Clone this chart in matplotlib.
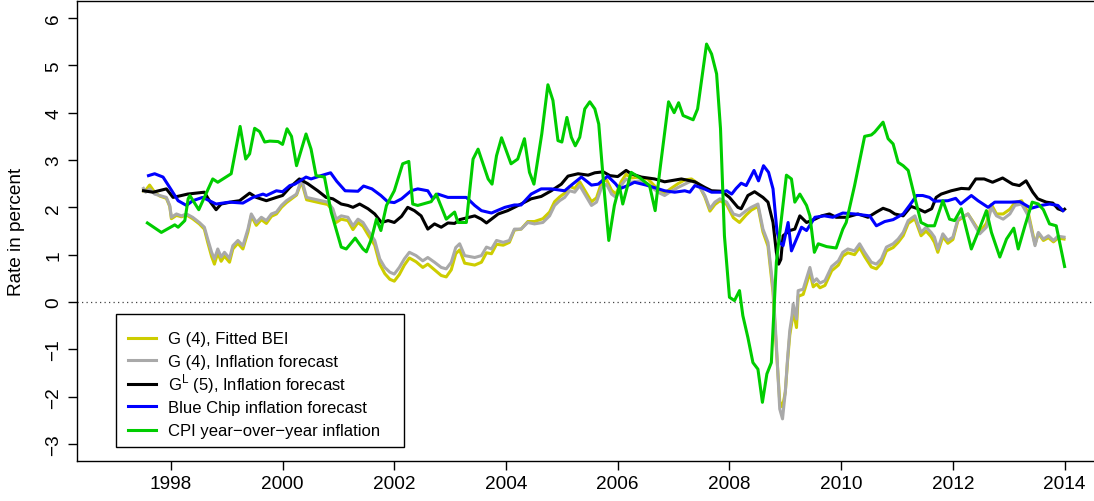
import matplotlib
matplotlib.use("Agg")
import matplotlib.pyplot as plt
from matplotlib.lines import Line2D
from matplotlib.patches import Rectangle

plt.rcParams['font.family'] = ['Liberation Sans', 'DejaVu Sans']
plt.rcParams['mathtext.fontset'] = 'custom'
plt.rcParams['mathtext.rm'] = 'Liberation Sans'

# ---------------------------------------------------------------- data
# G(4) model series (shared sampling dates)
g4_dates = [
    1997.51, 1997.55, 1997.62, 1997.71, 1997.80, 1997.92, 1997.98, 1998.01, 1998.10, 1998.19,
    1998.28, 1998.39, 1998.51, 1998.60, 1998.66, 1998.73, 1998.78, 1998.84, 1998.90, 1998.96,
    1999.05, 1999.11, 1999.20, 1999.29, 1999.38, 1999.44, 1999.53, 1999.62, 1999.71, 1999.80,
    1999.89, 1999.98, 2000.07, 2000.16, 2000.25, 2000.34, 2000.43, 2000.54, 2000.69, 2000.81,
    2000.90, 2000.96, 2001.05, 2001.17, 2001.26, 2001.35, 2001.44, 2001.53, 2001.65, 2001.74,
    2001.83, 2001.92, 2002.00, 2002.09, 2002.18, 2002.27, 2002.39, 2002.51, 2002.60, 2002.72,
    2002.84, 2002.93, 2003.02, 2003.10, 2003.17, 2003.26, 2003.44, 2003.56, 2003.65, 2003.74,
    2003.83, 2003.95, 2004.06, 2004.15, 2004.27, 2004.39, 2004.51, 2004.66, 2004.78, 2004.87,
    2004.96, 2005.05, 2005.14, 2005.23, 2005.32, 2005.41, 2005.53, 2005.62, 2005.71, 2005.80,
    2005.89, 2005.97, 2006.06, 2006.15, 2006.24, 2006.39, 2006.54, 2006.72, 2006.84, 2006.93,
    2007.08, 2007.20, 2007.32, 2007.44, 2007.56, 2007.65, 2007.74, 2007.83, 2007.95, 2008.07,
    2008.18, 2008.30, 2008.39, 2008.51, 2008.60, 2008.69, 2008.78, 2008.84, 2008.90, 2008.95,
    2009.00, 2009.04, 2009.08, 2009.12, 2009.14, 2009.20, 2009.23, 2009.32, 2009.44, 2009.50,
    2009.56, 2009.62, 2009.71, 2009.83, 2009.95, 2010.03, 2010.12, 2010.24, 2010.33, 2010.42,
    2010.54, 2010.63, 2010.72, 2010.81, 2010.93, 2011.02, 2011.11, 2011.20, 2011.32, 2011.43,
    2011.52, 2011.61, 2011.67, 2011.73, 2011.82, 2011.91, 2012.00, 2012.09, 2012.27, 2012.36,
    2012.48, 2012.60, 2012.69, 2012.78, 2012.90, 2013.02, 2013.11, 2013.23, 2013.35, 2013.47,
    2013.53, 2013.62, 2013.71, 2013.80, 2013.88, 2013.99,
]
g4_forecast = [
    2.40, 2.32, 2.39, 2.28, 2.25, 2.21, 2.04, 1.79, 1.86, 1.82,
    1.86, 1.79, 1.68, 1.58, 1.33, 1.05, 0.91, 1.12, 0.95, 1.05,
    0.92, 1.19, 1.30, 1.19, 1.54, 1.86, 1.68, 1.79, 1.72, 1.86,
    1.90, 2.04, 2.14, 2.21, 2.28, 2.60, 2.21, 2.18, 2.14, 2.11,
    1.97, 1.75, 1.82, 1.79, 1.61, 1.75, 1.68, 1.51, 1.30, 0.91,
    0.73, 0.63, 0.59, 0.73, 0.91, 1.05, 0.98, 0.87, 0.94, 0.84,
    0.73, 0.70, 0.84, 1.15, 1.23, 0.98, 0.94, 0.98, 1.16, 1.12,
    1.30, 1.26, 1.30, 1.54, 1.54, 1.68, 1.65, 1.68, 1.82, 2.04,
    2.14, 2.21, 2.35, 2.32, 2.46, 2.28, 2.04, 2.11, 2.42, 2.49,
    2.28, 2.21, 2.46, 2.60, 2.53, 2.56, 2.49, 2.32, 2.25, 2.32,
    2.42, 2.49, 2.56, 2.49, 2.25, 1.97, 2.11, 2.18, 2.11, 1.86,
    1.82, 1.93, 2.00, 2.07, 1.54, 1.26, 0.30, -0.90, -2.26, -2.47,
    -1.90, -1.20, -0.60, -0.29, -0.04, -0.36, 0.24, 0.27, 0.73, 0.42,
    0.49, 0.40, 0.45, 0.75, 0.87, 1.05, 1.12, 1.08, 1.23, 1.05,
    0.84, 0.80, 0.91, 1.16, 1.23, 1.33, 1.47, 1.72, 1.82, 1.47,
    1.58, 1.47, 1.37, 1.12, 1.44, 1.30, 1.37, 1.75, 1.86, 1.68,
    1.44, 1.58, 2.00, 1.82, 1.75, 1.86, 2.04, 2.07, 1.82, 1.19,
    1.47, 1.33, 1.40, 1.30, 1.39, 1.37,
]
g4_fitted_bei = [
    2.35, 2.36, 2.47, 2.32, 2.24, 2.19, 2.02, 1.76, 1.83, 1.80,
    1.84, 1.76, 1.65, 1.54, 1.26, 0.96, 0.80, 1.04, 0.86, 0.97,
    0.84, 1.12, 1.24, 1.12, 1.48, 1.82, 1.62, 1.74, 1.66, 1.81,
    1.86, 2.00, 2.10, 2.18, 2.26, 2.55, 2.16, 2.13, 2.09, 2.06,
    1.92, 1.68, 1.75, 1.72, 1.53, 1.68, 1.60, 1.42, 1.20, 0.80,
    0.60, 0.48, 0.44, 0.58, 0.78, 0.93, 0.85, 0.73, 0.80, 0.68,
    0.56, 0.53, 0.68, 1.02, 1.10, 0.82, 0.78, 0.84, 1.04, 1.02,
    1.22, 1.20, 1.26, 1.52, 1.54, 1.70, 1.70, 1.76, 1.90, 2.12,
    2.22, 2.30, 2.44, 2.40, 2.54, 2.36, 2.12, 2.20, 2.52, 2.58,
    2.36, 2.28, 2.54, 2.70, 2.62, 2.64, 2.60, 2.38, 2.30, 2.38,
    2.50, 2.58, 2.60, 2.50, 2.22, 1.92, 2.06, 2.14, 2.06, 1.78,
    1.68, 1.84, 1.94, 2.02, 1.48, 1.18, 0.20, -1.00, -2.10, -2.22,
    -1.90, -1.25, -0.70, -0.40, -0.15, -0.54, 0.12, 0.16, 0.62, 0.32,
    0.38, 0.30, 0.35, 0.66, 0.78, 0.97, 1.04, 1.00, 1.15, 0.96,
    0.74, 0.70, 0.82, 1.08, 1.15, 1.26, 1.40, 1.66, 1.76, 1.40,
    1.50, 1.38, 1.26, 1.05, 1.38, 1.24, 1.32, 1.72, 1.86, 1.70,
    1.48, 1.66, 2.06, 1.86, 1.86, 1.96, 2.10, 2.14, 1.88, 1.22,
    1.45, 1.30, 1.36, 1.27, 1.35, 1.33,
]

# G^L(5) inflation forecast
gl5_dates = [
    1997.51, 1997.68, 1997.92, 1998.04, 1998.19, 1998.30, 1998.45, 1998.60, 1998.69, 1998.81,
    1998.90, 1999.11, 1999.23, 1999.41, 1999.53, 1999.71, 1999.89, 2000.00, 2000.13, 2000.30,
    2000.45, 2000.63, 2000.78, 2000.90, 2001.05, 2001.17, 2001.26, 2001.38, 2001.53, 2001.65,
    2001.77, 2001.89, 2002.00, 2002.13, 2002.24, 2002.36, 2002.48, 2002.60, 2002.72, 2002.84,
    2002.96, 2003.08, 2003.17, 2003.44, 2003.56, 2003.65, 2003.86, 2004.03, 2004.27, 2004.45,
    2004.63, 2004.81, 2004.99, 2005.11, 2005.29, 2005.47, 2005.59, 2005.74, 2005.86, 2006.00,
    2006.15, 2006.24, 2006.42, 2006.66, 2006.84, 2007.14, 2007.38, 2007.56, 2007.68, 2007.86,
    2008.00, 2008.15, 2008.21, 2008.33, 2008.45, 2008.60, 2008.69, 2008.78, 2008.84, 2008.88,
    2008.92, 2008.96, 2009.08, 2009.17, 2009.26, 2009.38, 2009.53, 2009.65, 2009.79, 2009.91,
    2010.09, 2010.30, 2010.48, 2010.63, 2010.75, 2010.87, 2010.96, 2011.11, 2011.25, 2011.37,
    2011.50, 2011.62, 2011.70, 2011.79, 2011.97, 2012.15, 2012.29, 2012.41, 2012.56, 2012.71,
    2012.89, 2013.07, 2013.19, 2013.31, 2013.43, 2013.52, 2013.67, 2013.79, 2013.88, 2013.97,
    2014.00,
]
gl5_forecast = [
    2.35, 2.32, 2.39, 2.21, 2.25, 2.28, 2.30, 2.32, 2.14, 1.95,
    2.07, 2.12, 2.14, 2.30, 2.21, 2.14, 2.21, 2.25, 2.42, 2.60,
    2.50, 2.35, 2.21, 2.18, 2.07, 2.04, 2.00, 2.07, 1.97, 1.86,
    1.68, 1.72, 1.68, 1.81, 2.00, 1.93, 1.82, 1.54, 1.65, 1.58,
    1.67, 1.66, 1.74, 1.82, 1.75, 1.67, 1.86, 1.93, 2.07, 2.18,
    2.23, 2.35, 2.49, 2.66, 2.71, 2.68, 2.73, 2.75, 2.67, 2.65,
    2.78, 2.71, 2.64, 2.60, 2.54, 2.60, 2.54, 2.42, 2.35, 2.34,
    2.21, 2.00, 1.97, 2.25, 2.33, 2.21, 2.11, 1.68, 1.05, 0.80,
    0.90, 1.40, 1.51, 1.54, 1.82, 1.68, 1.75, 1.82, 1.86, 1.79,
    1.79, 1.86, 1.79, 1.90, 1.98, 1.93, 1.86, 1.82, 2.02, 1.97,
    1.90, 1.97, 2.21, 2.28, 2.35, 2.40, 2.39, 2.60, 2.60, 2.53,
    2.62, 2.49, 2.46, 2.56, 2.32, 2.18, 2.11, 2.09, 1.97, 1.93,
    1.96,
]

# Blue Chip survey forecast
bluechip_dates = [
    1997.60, 1997.71, 1997.86, 1997.98, 1998.13, 1998.28, 1998.39, 1998.57, 1998.81, 1999.05,
    1999.29, 1999.47, 1999.65, 1999.71, 1999.89, 2000.00, 2000.13, 2000.22, 2000.42, 2000.51,
    2000.69, 2000.86, 2000.97, 2001.12, 2001.35, 2001.45, 2001.60, 2001.76, 2001.88, 2002.00,
    2002.13, 2002.30, 2002.42, 2002.60, 2002.69, 2002.78, 2002.96, 2003.29, 2003.44, 2003.56,
    2003.74, 2003.98, 2004.15, 2004.27, 2004.45, 2004.63, 2004.81, 2005.05, 2005.17, 2005.35,
    2005.53, 2005.65, 2005.82, 2005.96, 2006.03, 2006.18, 2006.30, 2006.51, 2006.84, 2007.02,
    2007.20, 2007.29, 2007.38, 2007.53, 2007.68, 2007.86, 2007.95, 2008.04, 2008.12, 2008.21,
    2008.30, 2008.44, 2008.52, 2008.61, 2008.70, 2008.78, 2008.85, 2008.90, 2008.96, 2009.05,
    2009.11, 2009.20, 2009.29, 2009.38, 2009.53, 2009.70, 2009.85, 2010.03, 2010.24, 2010.51,
    2010.63, 2010.78, 2010.93, 2011.11, 2011.23, 2011.35, 2011.46, 2011.58, 2011.67, 2011.91,
    2012.05, 2012.14, 2012.33, 2012.45, 2012.63, 2012.75, 2013.04, 2013.20, 2013.40, 2013.58,
    2013.73, 2013.88, 2013.97,
]
bluechip_forecast = [
    2.67, 2.71, 2.64, 2.42, 2.14, 2.04, 2.14, 2.21, 2.07, 2.11,
    2.09, 2.21, 2.28, 2.25, 2.35, 2.33, 2.46, 2.49, 2.64, 2.60,
    2.67, 2.73, 2.55, 2.35, 2.34, 2.45, 2.39, 2.25, 2.12, 2.10,
    2.18, 2.35, 2.39, 2.35, 2.18, 2.28, 2.21, 2.21, 2.04, 1.93,
    1.88, 2.00, 2.05, 2.05, 2.28, 2.39, 2.39, 2.35, 2.47, 2.64,
    2.47, 2.49, 2.66, 2.50, 2.39, 2.46, 2.53, 2.47, 2.35, 2.32,
    2.35, 2.32, 2.46, 2.40, 2.32, 2.32, 2.35, 2.28, 2.40, 2.51,
    2.46, 2.78, 2.56, 2.88, 2.74, 2.39, 1.50, 1.26, 1.19, 1.68,
    1.08, 1.33, 1.58, 1.51, 1.79, 1.82, 1.79, 1.88, 1.86, 1.82,
    1.61, 1.70, 1.74, 1.86, 2.05, 2.25, 2.25, 2.21, 2.13, 2.14,
    2.19, 2.07, 2.25, 2.14, 2.00, 2.11, 2.11, 2.12, 1.98, 2.04,
    2.07, 2.04, 1.93,
]

# CPI year-over-year inflation
cpi_dates = [
    1997.58, 1997.83, 1998.07, 1998.13, 1998.25, 1998.31, 1998.34, 1998.50, 1998.75, 1998.84,
    1999.08, 1999.24, 1999.34, 1999.41, 1999.50, 1999.59, 1999.68, 1999.77, 1999.92, 2000.00,
    2000.08, 2000.16, 2000.25, 2000.42, 2000.51, 2000.60, 2000.75, 2000.87, 2001.05, 2001.14,
    2001.30, 2001.44, 2001.50, 2001.59, 2001.68, 2001.76, 2001.86, 2002.00, 2002.15, 2002.26,
    2002.33, 2002.42, 2002.66, 2002.75, 2002.93, 2003.08, 2003.14, 2003.29, 2003.41, 2003.50,
    2003.68, 2003.75, 2003.83, 2003.92, 2004.09, 2004.21, 2004.33, 2004.42, 2004.50, 2004.64,
    2004.75, 2004.84, 2004.93, 2005.00, 2005.09, 2005.17, 2005.24, 2005.32, 2005.41, 2005.50,
    2005.59, 2005.66, 2005.75, 2005.84, 2005.94, 2006.03, 2006.09, 2006.24, 2006.40, 2006.57,
    2006.67, 2006.75, 2006.91, 2007.01, 2007.09, 2007.17, 2007.35, 2007.43, 2007.59, 2007.68,
    2007.77, 2007.84, 2007.91, 2008.00, 2008.09, 2008.18, 2008.24, 2008.33, 2008.42, 2008.51,
    2008.59, 2008.67, 2008.75, 2008.84, 2009.02, 2009.11, 2009.17, 2009.26, 2009.38, 2009.44,
    2009.52, 2009.59, 2009.74, 2009.91, 2010.03, 2010.09, 2010.24, 2010.42, 2010.54, 2010.60,
    2010.75, 2010.84, 2010.93, 2011.02, 2011.11, 2011.20, 2011.32, 2011.43, 2011.55, 2011.67,
    2011.82, 2011.94, 2012.03, 2012.15, 2012.33, 2012.45, 2012.60, 2012.69, 2012.84, 2012.96,
    2013.09, 2013.17, 2013.29, 2013.42, 2013.53, 2013.62, 2013.73, 2013.85, 2014.00,
]
cpi_inflation = [
    1.67, 1.47, 1.63, 1.58, 1.72, 2.18, 2.25, 1.95, 2.60, 2.53,
    2.71, 3.71, 3.02, 3.13, 3.67, 3.60, 3.38, 3.40, 3.39, 3.33,
    3.66, 3.50, 2.88, 3.55, 3.23, 2.67, 2.64, 1.90, 1.16, 1.12,
    1.35, 1.12, 1.06, 1.33, 1.75, 1.51, 2.04, 2.35, 2.92, 2.97,
    2.07, 2.04, 2.12, 2.28, 1.75, 1.90, 1.68, 1.68, 3.02, 3.23,
    2.60, 2.49, 3.09, 3.47, 2.92, 3.02, 3.45, 2.74, 2.49, 3.55,
    4.59, 4.26, 3.41, 3.38, 3.90, 3.48, 3.30, 3.48, 4.08, 4.23,
    4.08, 3.76, 2.46, 1.30, 2.04, 2.45, 2.07, 2.74, 2.62, 2.46,
    1.93, 2.74, 4.23, 4.00, 4.21, 3.94, 3.85, 4.08, 5.45, 5.24,
    4.82, 3.66, 1.40, 0.10, 0.03, 0.24, -0.29, -0.75, -1.28, -1.42,
    -2.12, -1.52, -1.28, 0.84, 2.68, 2.60, 2.11, 2.28, 2.04, 1.82,
    1.05, 1.23, 1.17, 1.14, 1.54, 1.68, 2.46, 3.50, 3.53, 3.59,
    3.80, 3.45, 3.34, 2.95, 2.88, 2.78, 2.20, 1.68, 1.61, 1.61,
    2.14, 1.75, 1.72, 1.97, 1.12, 1.47, 1.93, 1.47, 0.95, 1.33,
    1.56, 1.12, 1.61, 2.11, 2.07, 1.95, 1.65, 1.61, 0.75,
]

legend_labels = [
    "G (4), Fitted BEI",
    "G (4), Inflation forecast",
    r"G$^{\mathrm{L}}$ (5), Inflation forecast",
    "Blue Chip inflation forecast",
    "CPI year\u2212over\u2212year inflation",
]
x_ticks = [1998, 2000, 2002, 2004, 2006, 2008, 2010, 2012, 2014]
y_ticks = [-3, -2, -1, 0, 1, 2, 3, 4, 5, 6]

# ---------------------------------------------------------------- styling
YELLOW = "#CDCD00"
GRAY = "#A9A9A9"
BLACK = "#000000"
BLUE = "#0000FF"
GREEN = "#00CD00"
LW = 2.2

W, H = 1094, 502
fig = plt.figure(figsize=(W / 100, H / 100), dpi=100)
ax = fig.add_axes([77 / W, 1 - 462 / H, (1102.6 - 77) / W, (462 - 2) / H])
ax.set_xlim(1996.32, 2014.68)
ax.set_ylim(-3.36, 6.36)

ax.axhline(0, color="#444444", lw=0.9, ls=(0, (1, 2.6)), zorder=1)

series = [
    (g4_dates, g4_fitted_bei, YELLOW),
    (g4_dates, g4_forecast, GRAY),
    (gl5_dates, gl5_forecast, BLACK),
    (bluechip_dates, bluechip_forecast, BLUE),
    (cpi_dates, cpi_inflation, GREEN),
]
for i, (t, v, c) in enumerate(series):
    ax.plot(t, v, color=c, lw=LW, solid_joinstyle="round", zorder=2 + i)

for s in ax.spines.values():
    s.set_linewidth(1.0)
    s.set_color("black")

ax.set_xticks(x_ticks)
ax.set_xticklabels([str(x) for x in x_ticks])
ax.set_yticks(y_ticks)
ax.set_yticklabels([("\u2212" + str(-y)) if y < 0 else str(y) for y in y_ticks])
ax.tick_params(axis="both", direction="out", length=6.2, width=1.0,
               labelsize=13.7, colors="black")
ax.tick_params(axis="x", pad=4.1)
ax.tick_params(axis="y", pad=4.3)
for lbl in ax.get_yticklabels():
    lbl.set_rotation(90)
    lbl.set_va("center")
    lbl.set_ha("right")

fig.text(25.5 / W, 1 - 232 / H, "Rate in percent", rotation=90,
         ha="right", va="center", fontsize=13.7)

# ---------------------------------------------------------------- legend box
def fx(x):
    return x / W


def fy(y):
    return 1 - y / H


box = Rectangle((fx(115.7), fy(448)), fx(404.3) - fx(115.7), fy(315.3) - fy(448),
                transform=fig.transFigure, facecolor="white", edgecolor="black",
                lw=1.0, zorder=20)
fig.add_artist(box)
row_y = [338.7, 361.3, 384.7, 407.3, 431.0]
colors = [YELLOW, GRAY, BLACK, BLUE, GREEN]
for y, c, lab in zip(row_y, colors, legend_labels):
    fig.add_artist(Line2D([fx(127.7), fx(156)], [fy(y), fy(y)], transform=fig.transFigure,
                          color=c, lw=LW, zorder=21))
    fig.text(fx(168), fy(y + 5.2), lab, ha="left", va="baseline", fontsize=12.0,
             zorder=22)

fig.savefig("out.png", dpi=100)
